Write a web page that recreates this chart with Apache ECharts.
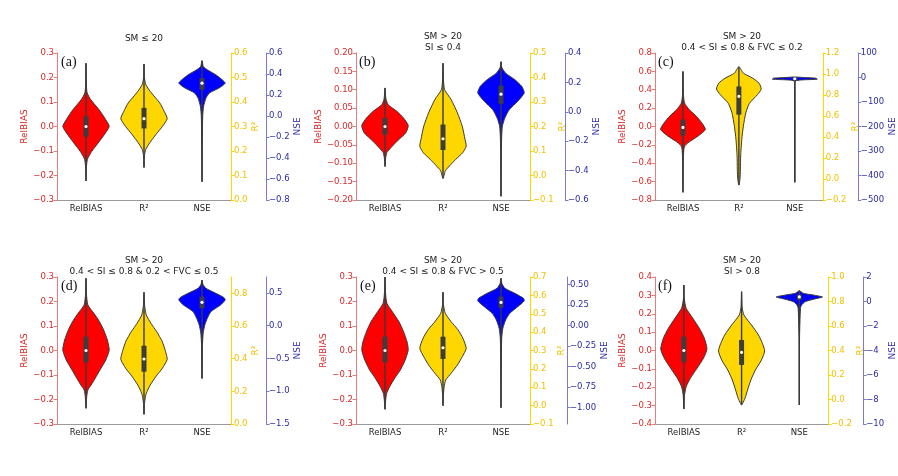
<!DOCTYPE html>
<html>
<head>
<meta charset="utf-8">
<script src="https://cdn.jsdelivr.net/npm/echarts@6/dist/echarts.min.js"></script>
<style>
  html, body { margin: 0; background: #fff; }
  #chart { width: 898px; height: 476px; }
</style>
</head>
<body>
<div id="chart"></div>
<script>
// Categories and panel texts
const categories = ['RelBIAS', 'R²', 'NSE'];
const panelTitles = [
    'SM ≤ 20',
    'SM > 20\nSI ≤ 0.4',
    'SM > 20\n0.4 < SI ≤ 0.8 & FVC ≤ 0.2',
    'SM > 20\n0.4 < SI ≤ 0.8 & 0.2 < FVC ≤ 0.5',
    'SM > 20\n0.4 < SI ≤ 0.8 & FVC > 0.5',
    'SM > 20\nSI > 0.8'
];
const panelLetters = ['(a)', '(b)', '(c)', '(d)', '(e)', '(f)'];

// Tick labels of the three y axes, per panel
const relbiasTicks = [
    [-0.3, -0.2, -0.1, 0, 0.1, 0.2, 0.3],
    [-0.2, -0.15, -0.1, -0.05, 0, 0.05, 0.1, 0.15, 0.2],
    [-0.8, -0.6, -0.4, -0.2, 0, 0.2, 0.4, 0.6, 0.8],
    [-0.3, -0.2, -0.1, 0, 0.1, 0.2, 0.3],
    [-0.3, -0.2, -0.1, 0, 0.1, 0.2, 0.3],
    [-0.4, -0.3, -0.2, -0.1, 0, 0.1, 0.2, 0.3, 0.4]
];
const r2Ticks = [
    [0, 0.1, 0.2, 0.3, 0.4, 0.5, 0.6],
    [-0.1, 0, 0.1, 0.2, 0.3, 0.4, 0.5],
    [-0.2, 0, 0.2, 0.4, 0.6, 0.8, 1.0, 1.2],
    [0, 0.2, 0.4, 0.6, 0.8],
    [-0.1, 0, 0.1, 0.2, 0.3, 0.4, 0.5, 0.6, 0.7],
    [-0.2, 0, 0.2, 0.4, 0.6, 0.8, 1.0]
];
const nseTicks = [
    [-0.8, -0.6, -0.4, -0.2, 0, 0.2, 0.4, 0.6],
    [-0.6, -0.4, -0.2, 0, 0.2, 0.4],
    [-500, -400, -300, -200, -100, 0, 100],
    [-1.5, -1.0, -0.5, 0, 0.5],
    [-1.0, -0.75, -0.5, -0.25, 0, 0.25, 0.5],
    [-10, -8, -6, -4, -2, 0, 2]
];
const relbiasRange = [[-0.3, 0.3], [-0.2, 0.2], [-0.8, 0.8], [-0.3, 0.3], [-0.3, 0.3], [-0.4, 0.4]];
const r2Range = [[0, 0.6], [-0.1, 0.5], [-0.2, 1.2], [0, 0.9], [-0.1, 0.7], [-0.2, 1.0]];
const nseRange = [[-0.8, 0.6], [-0.6, 0.4], [-500, 100], [-1.5, 0.74], [-1.2, 0.59], [-10, 2]];
const relbiasDecimals = [1, 2, 1, 1, 1, 1];
const r2Decimals = [1, 1, 1, 1, 1, 1];
const nseDecimals = [1, 1, 0, 1, 2, 0];

// Violin profiles: [value, relative density], bottom to top
const relbiasA = [[-0.222, 0], [-0.17, 0.015], [-0.134, 0.06], [-0.107, 0.21], [-0.08, 0.42], [-0.04, 0.74], [0, 1], [0.028, 0.85], [0.069, 0.56], [0.109, 0.21], [0.137, 0.05], [0.17, 0.015], [0.258, 0]];
const r2A = [[0.133, 0], [0.18, 0.02], [0.207, 0.08], [0.234, 0.25], [0.268, 0.52], [0.301, 0.8], [0.332, 1], [0.362, 0.87], [0.396, 0.68], [0.437, 0.32], [0.47, 0.08], [0.5, 0.02], [0.555, 0]];
const nseA = [[-0.627, 0], [-0.3, 0.01], [0.0, 0.03], [0.092, 0.07], [0.171, 0.17], [0.219, 0.32], [0.266, 0.73], [0.313, 1], [0.345, 0.87], [0.392, 0.6], [0.439, 0.24], [0.47, 0.06], [0.527, 0]];

const relbiasB = [[-0.109, 0], [-0.085, 0.03], [-0.071, 0.08], [-0.058, 0.25], [-0.04, 0.52], [-0.017, 0.9], [0.003, 1], [0.023, 0.8], [0.041, 0.52], [0.059, 0.14], [0.075, 0.04], [0.105, 0]];
const r2B = [[-0.012, 0], [0.019, 0.1], [0.039, 0.28], [0.066, 0.55], [0.093, 0.85], [0.12, 1], [0.147, 0.95], [0.201, 0.83], [0.256, 0.62], [0.31, 0.35], [0.35, 0.07], [0.39, 0.02], [0.458, 0]];
const nseB = [[-0.575, 0], [-0.3, 0.01], [-0.165, 0.03], [-0.097, 0.06], [-0.041, 0.17], [0.015, 0.36], [0.071, 0.72], [0.128, 1], [0.172, 0.9], [0.218, 0.6], [0.263, 0.2], [0.3, 0.04], [0.341, 0]];

const relbiasC = [[-0.717, 0], [-0.4, 0.01], [-0.249, 0.04], [-0.205, 0.1], [-0.159, 0.33], [-0.105, 0.67], [-0.032, 1], [0.04, 0.84], [0.111, 0.6], [0.184, 0.28], [0.256, 0.07], [0.35, 0.02], [0.598, 0]];
const r2C = [[-0.058, 0], [-0.002, 0.05], [0.093, 0.07], [0.219, 0.08], [0.377, 0.13], [0.503, 0.2], [0.63, 0.31], [0.72, 0.47], [0.803, 0.83], [0.857, 1], [0.913, 0.9], [0.96, 0.62], [1.008, 0.2], [1.07, 0]];
const nseC = [[-428, 0], [-60, 0.01], [-15, 0.02], [-10, 0.3], [-7, 1], [-3, 0.95], [0, 0.4], [2, 0]];

const relbiasD = [[-0.236, 0], [-0.189, 0.03], [-0.161, 0.08], [-0.141, 0.22], [-0.113, 0.4], [-0.08, 0.6], [-0.039, 0.85], [0.002, 1], [0.043, 0.92], [0.084, 0.76], [0.118, 0.58], [0.152, 0.34], [0.186, 0.08], [0.23, 0.02], [0.295, 0]];
const r2D = [[0.059, 0], [0.12, 0.02], [0.147, 0.04], [0.188, 0.1], [0.239, 0.27], [0.29, 0.51], [0.341, 0.79], [0.396, 1], [0.443, 0.93], [0.504, 0.79], [0.565, 0.55], [0.616, 0.3], [0.667, 0.1], [0.72, 0.03], [0.806, 0]];
const nseD = [[-0.805, 0], [-0.3, 0.02], [-0.118, 0.05], [0.008, 0.12], [0.11, 0.23], [0.211, 0.38], [0.313, 0.8], [0.39, 1], [0.425, 0.95], [0.491, 0.6], [0.567, 0.17], [0.63, 0.04], [0.694, 0]];

const relbiasE = [[-0.24, 0], [-0.202, 0.03], [-0.175, 0.07], [-0.148, 0.2], [-0.113, 0.42], [-0.08, 0.66], [-0.039, 0.87], [0.002, 1], [0.036, 0.95], [0.077, 0.8], [0.118, 0.6], [0.158, 0.32], [0.193, 0.08], [0.24, 0.02], [0.3, 0]];
const r2E = [[0.0, 0], [0.06, 0.02], [0.103, 0.05], [0.14, 0.12], [0.176, 0.35], [0.221, 0.62], [0.266, 0.83], [0.312, 1], [0.366, 0.86], [0.412, 0.65], [0.457, 0.35], [0.502, 0.1], [0.55, 0.02], [0.617, 0]];
const nseE = [[-1.002, 0], [-0.5, 0.01], [-0.157, 0.03], [-0.035, 0.08], [0.066, 0.2], [0.148, 0.38], [0.228, 0.72], [0.298, 1], [0.33, 0.97], [0.391, 0.6], [0.452, 0.17], [0.51, 0.04], [0.574, 0]];

const relbiasF = [[-0.318, 0], [-0.242, 0.03], [-0.197, 0.1], [-0.151, 0.28], [-0.097, 0.57], [-0.042, 0.85], [0.008, 1], [0.066, 0.89], [0.121, 0.67], [0.175, 0.39], [0.23, 0.1], [0.28, 0.02], [0.356, 0]];
const r2F = [[-0.045, 0], [-0.03, 0.05], [0.01, 0.15], [0.078, 0.26], [0.159, 0.4], [0.241, 0.6], [0.322, 0.86], [0.396, 1], [0.459, 0.9], [0.527, 0.73], [0.608, 0.43], [0.69, 0.1], [0.76, 0.02], [0.88, 0]];
const nseF = [[-8.45, 0], [-3, 0.01], [-0.56, 0.05], [-0.29, 0.1], [-0.02, 0.25], [0.2, 0.65], [0.37, 1], [0.53, 0.6], [0.67, 0.17], [0.88, 0]];

// Inner boxes: [q1, median, q3]
const relbiasBoxes = [[-0.042, 0, 0.042], [-0.022, 0, 0.023], [-0.097, -0.01, 0.076], [-0.048, 0, 0.056], [-0.048, 0, 0.056], [-0.064, 0, 0.075]];
const r2Boxes = [[0.292, 0.332, 0.376], [0.104, 0.15, 0.208], [0.613, 0.787, 0.881], [0.32, 0.398, 0.479], [0.254, 0.315, 0.375], [0.282, 0.385, 0.486]];
const nseBoxes = [[0.25, 0.313, 0.361], [0.055, 0.12, 0.177], [-8, -5, -2], [0.263, 0.354, 0.44], [0.216, 0.28, 0.35], [0.12, 0.37, 0.58]];

const relbiasViolins = [relbiasA, relbiasB, relbiasC, relbiasD, relbiasE, relbiasF];
const r2Violins = [r2A, r2B, r2C, r2D, r2E, r2F];
const nseViolins = [nseA, nseB, nseC, nseD, nseE, nseF];

// Layout
const colLeft = [57, 356, 655];
const rowTop = [53, 277];
const gridW = 174, gridH = 147;
const titleTop = [33, 31.5, 31.5, 255.5, 255.5, 255.5];
const letterLeft = [61, 359, 658, 61, 360, 658];
const redGap = [27, 33, 28, 27, 27, 26];
const yellowGap = [20, 28, 28, 20, 26, 25];
const blueGap = [26, 27, 30, 27, 28, 24];
const blueOffset = [35, 35, 35, 35, 37, 35];

const FONT = 'DejaVu Sans';
const fills = ['#ff0000', '#ffd700', '#0000ff'];

function fmt(v, dec) {
    return v.toFixed(dec).replace('-', '\u2212');
}

function valueAxis(p, cfg) {
    return {
        type: 'value',
        gridIndex: p,
        min: cfg.range[0],
        max: cfg.range[1],
        position: cfg.position,
        offset: cfg.offset || 0,
        name: cfg.name,
        nameLocation: 'middle',
        nameRotate: 90,
        nameGap: cfg.gap,
        nameTextStyle: { color: cfg.text, fontSize: 9, fontFamily: FONT },
        axisLine: { show: true, onZero: false, lineStyle: { color: cfg.line, width: 1 } },
        axisTick: { show: true, length: 3.5, customValues: cfg.ticks, lineStyle: { color: cfg.line } },
        axisLabel: {
            color: cfg.text, fontSize: 8.5, fontFamily: FONT, margin: 3,
            customValues: cfg.ticks,
            formatter: v => fmt(v, cfg.dec)
        },
        splitLine: { show: false }
    };
}

function violinRenderer(profile, box, fill) {
    return function (params, api) {
        const cat = api.value(0);
        const cx = api.coord([cat, box[1]])[0];
        const half = api.size([1, 0])[0] * 0.4;
        const pt = (v, d) => [cx + d * half, api.coord([cat, v])[1]];
        const right = profile.map(([v, d]) => pt(v, d));
        const left = profile.slice(1, -1).reverse().map(([v, d]) => pt(v, -d));
        const lo = api.coord([cat, profile[0][0]])[1];
        const hi = api.coord([cat, profile[profile.length - 1][0]])[1];
        const q1 = api.coord([cat, box[0]])[1];
        const med = api.coord([cat, box[1]])[1];
        const q3 = api.coord([cat, box[2]])[1];
        return {
            type: 'group',
            children: [
                { type: 'polygon', shape: { points: right.concat(left), smooth: 0.2 },
                  style: { fill: fill, stroke: '#3a3a3a', lineWidth: 1 } },
                { type: 'line', shape: { x1: cx, y1: lo, x2: cx, y2: hi },
                  style: { stroke: '#3a3a3a', lineWidth: 1.4 } },
                { type: 'rect', shape: { x: cx - 2.5, y: q3, width: 5, height: Math.max(q1 - q3, 1) },
                  style: { fill: '#3d3d3d' } },
                { type: 'circle', shape: { cx: cx, cy: med, r: 1.6 }, style: { fill: '#fff' } }
            ]
        };
    };
}

const grid = [], xAxis = [], yAxis = [], series = [], title = [];

for (let p = 0; p < 6; p++) {
    const left = colLeft[p % 3];
    const top = rowTop[Math.floor(p / 3)];
    grid.push({ left: left, top: top, width: gridW, height: gridH });

    xAxis.push({
        type: 'category',
        gridIndex: p,
        data: categories,
        axisLine: { onZero: false, lineStyle: { color: '#9a9a9a' } },
        axisTick: { alignWithLabel: true, length: 3, lineStyle: { color: '#9a9a9a' } },
        axisLabel: { color: '#222', fontSize: 8.5, fontFamily: FONT, margin: 4 }
    });

    yAxis.push(valueAxis(p, {
        position: 'left', name: 'RelBIAS', gap: redGap[p],
        range: relbiasRange[p], ticks: relbiasTicks[p], dec: relbiasDecimals[p],
        line: '#e67c7c', text: '#d92a2a'
    }));
    yAxis.push(valueAxis(p, {
        position: 'right', name: 'R²', gap: yellowGap[p],
        range: r2Range[p], ticks: r2Ticks[p], dec: r2Decimals[p],
        line: '#ffd700', text: '#f0c000'
    }));
    yAxis.push(valueAxis(p, {
        position: 'right', offset: blueOffset[p], name: 'NSE', gap: blueGap[p],
        range: nseRange[p], ticks: nseTicks[p], dec: nseDecimals[p],
        line: '#7a7ad0', text: '#2b2ba6'
    }));

    const violins = [relbiasViolins[p], r2Violins[p], nseViolins[p]];
    const boxes = [relbiasBoxes[p], r2Boxes[p], nseBoxes[p]];
    for (let m = 0; m < 3; m++) {
        series.push({
            type: 'custom',
            name: categories[m],
            xAxisIndex: p,
            yAxisIndex: p * 3 + m,
            coordinateSystem: 'cartesian2d',
            data: [[m, boxes[m][1]]],
            renderItem: violinRenderer(violins[m], boxes[m], fills[m]),
            clip: false,
            silent: true
        });
    }

    title.push({
        text: panelTitles[p],
        left: left + gridW / 2,
        top: titleTop[p],
        textAlign: 'center',
        padding: 0,
        textStyle: { fontSize: 9, fontWeight: 'normal', color: '#222', fontFamily: FONT, lineHeight: 10.5 }
    });
    title.push({
        text: panelLetters[p],
        left: letterLeft[p],
        top: top + 2,
        padding: 0,
        textStyle: { fontSize: 14, fontWeight: 'normal', color: '#111', fontFamily: 'Liberation Serif' }
    });
}

const chart = echarts.init(document.getElementById('chart'));
chart.setOption({
    backgroundColor: '#fff',
    animation: false,
    title: title,
    grid: grid,
    xAxis: xAxis,
    yAxis: yAxis,
    series: series
});
</script>
</body>
</html>
